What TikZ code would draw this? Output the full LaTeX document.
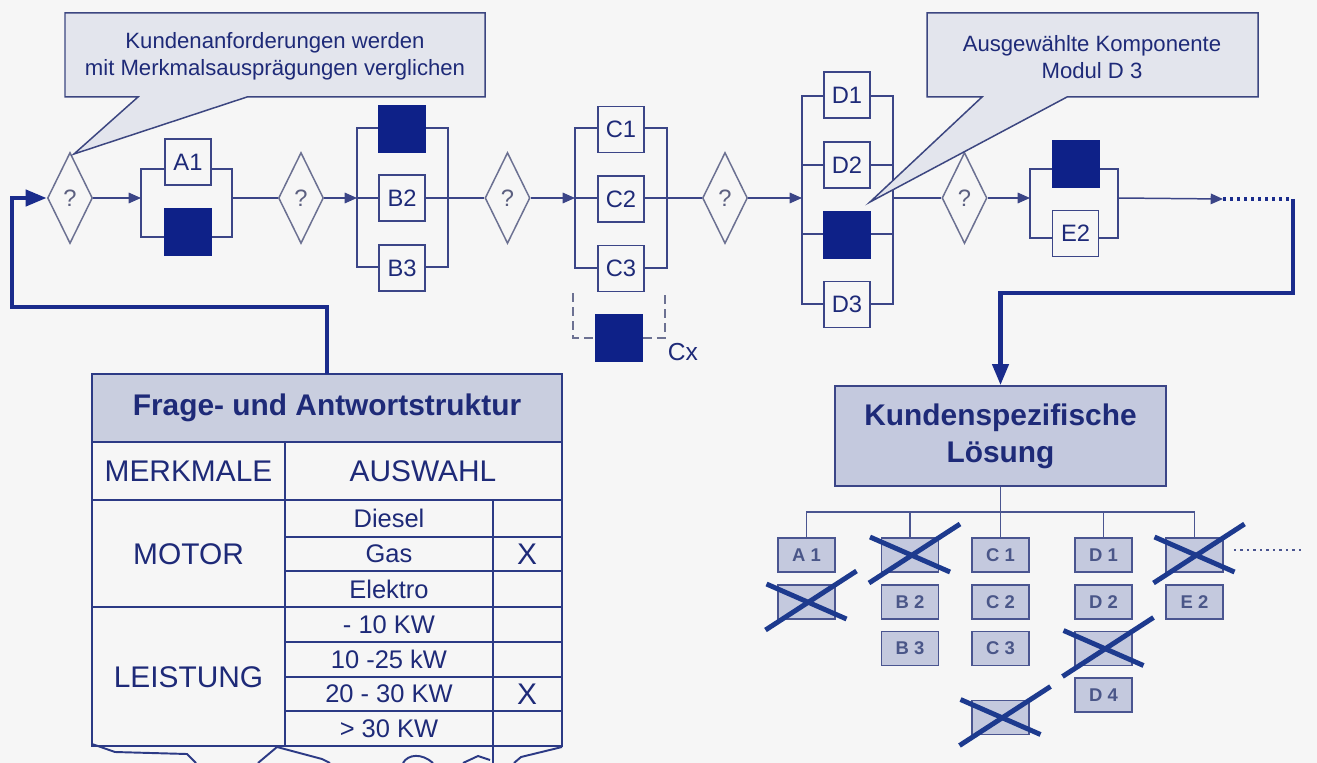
\documentclass[tikz,border=0pt]{standalone}
\usepackage{fontspec}
\setmainfont{Liberation Sans}
\usetikzlibrary{shapes.geometric,arrows.meta,calc}
\definecolor{bg}{HTML}{F6F6F6}
\definecolor{navy}{HTML}{0E2188}
\definecolor{lineblue}{HTML}{3B4587}
\definecolor{diagray}{HTML}{6C7192}
\definecolor{qgray}{HTML}{5C6080}
\definecolor{txt}{HTML}{1E2A78}
\definecolor{callfill}{HTML}{E3E5ED}
\definecolor{calldraw}{HTML}{3C4680}
\definecolor{titlefill}{HTML}{C9CEDF}
\definecolor{boxfill}{HTML}{C4C9DE}
\definecolor{thickblue}{HTML}{1A2C8C}
\definecolor{tabblue}{HTML}{2C3A85}
\definecolor{treeline}{HTML}{4A5590}
\definecolor{treetxt}{HTML}{4A5688}
\definecolor{crossblue}{HTML}{1D3A8E}
\tikzset{
  thinl/.style={draw=lineblue, line width=0.85pt},
  arr/.style={-{Triangle[length=7pt,width=6pt]}},
  bigarr/.style={-{Triangle[length=12pt,width=9pt]}},
  thickc/.style={draw=thickblue, line width=2.6pt},
  dia/.style={diamond, draw=diagray, line width=0.85pt, fill=bg, minimum width=0.9cm, minimum height=1.82cm, inner sep=0pt, text=qgray, font=\fontsize{13.5}{15}\selectfont},
  optbox/.style={draw=lineblue, line width=0.85pt, fill=bg, minimum width=0.92cm, minimum height=0.92cm, inner sep=0pt, text=txt, font=\fontsize{13.5}{15}\selectfont},
  selbox/.style={fill=navy, draw=navy, minimum width=0.94cm, minimum height=0.94cm, inner sep=0pt},
  callout/.style={draw=calldraw, fill=callfill, line width=0.85pt},
  calltext/.style={text=txt, font=\fontsize{12.6}{15.3}\selectfont, align=center},
  tabline/.style={draw=tabblue, line width=1.1pt},
  tabtxt/.style={text=txt, font=\fontsize{17}{20}\selectfont},
  opttxt/.style={text=txt, font=\fontsize{14.5}{16}\selectfont},
  treebox/.style={draw=treeline, line width=0.85pt, fill=boxfill, minimum width=1.14cm, minimum height=0.68cm, inner sep=0pt, text=treetxt, font=\bfseries\fontsize{10.5}{12}\selectfont},
  treel/.style={draw=treeline, line width=0.85pt},
  crossl/.style={draw=crossblue, line width=2.8pt},
}
\begin{document}
\begin{tikzpicture}[x=0.02cm,y=-0.02cm]
\useasboundingbox (0,0) rectangle (1317,763);
\fill[bg] (0,0) rectangle (1317,763);
\begin{scope}
\clip (0,0) rectangle (1317,763);

% ---------- brackets (drawn first) ----------
\draw[thinl] (141,169) rectangle (232,237);
\draw[thinl] (357,128) rectangle (448,267);
\draw[thinl] (575,128) rectangle (667,268);
\draw[thinl] (802,96) rectangle (893,304);
\draw[thinl] (802,165) -- (893,165);
\draw[thinl] (802,234) -- (893,234);
\draw[thinl] (1030,169) rectangle (1118,238);

% ---------- coordinates ----------
\coordinate (aL) at (141,198);
\coordinate (aR) at (232,198);
\coordinate (bL) at (357,198);
\coordinate (cL) at (575,198);
\coordinate (dL) at (802,198);
\coordinate (dR) at (893,198);
\coordinate (eL) at (1030,198);
\coordinate (eR) at (1118,198);
\coordinate (etip) at (1223,199);
\coordinate (dotend) at (1293,199);

% ---------- diamonds ----------
\node[dia] (q1) at (70,198) {?};
\node[dia] (q2) at (301,198) {?};
\node[dia] (q3) at (507.5,198) {?};
\node[dia] (q4) at (725,198) {?};
\node[dia] (q5) at (964.5,198) {?};

% ---------- main flow ----------
\draw[thinl,arr] (q1.east) -- (aL);
\draw[thinl] (aR) -- (q2.west);
\draw[thinl,arr] (q2.east) -- (bL);
\draw[thinl] (bL) -- (q3.west);
\draw[thinl,arr] (q3.east) -- (cL);
\draw[thinl] (cL) -- (q4.west);
\draw[thinl,arr] (q4.east) -- (dL);
\draw[thinl] (dR) -- (q5.west);
\draw[thinl,arr] (q5.east) -- (eL);
\draw[thinl,arr] (eR) -- (etip);
\draw[draw=thickblue, line width=2.4pt, dash pattern=on 1.6pt off 2.4pt] (etip) -- (dotend);

% ---------- option boxes ----------
\node[optbox] (a1) at (188,162) {A1};
\node[selbox] (asel) at (188,232) {};
\node[selbox] (bsel) at (402,128.5) {};
\node[optbox] (b2) at (402,198) {B2};
\node[optbox] (b3) at (402,268) {B3};
\node[optbox] (c1) at (621,129.5) {C1};
\node[optbox] (c2) at (621,199) {C2};
\node[optbox] (c3) at (621,268.5) {C3};
\node[selbox] (cx) at (619,338) {};
\node[text=txt, font=\fontsize{14}{16}\selectfont] (cxl) at (683,352) {Cx};
\draw[draw=diagray, line width=0.85pt, dash pattern=on 5pt off 3pt] (573,293) -- (573,338) -- (cx.west);
\draw[draw=diagray, line width=0.85pt, dash pattern=on 5pt off 3pt] (cx.east) -- (665,338) -- (665,293);
\node[optbox] (d1) at (847,95) {D1};
\node[optbox] (d2) at (847,165) {D2};
\node[selbox] (dsel) at (847,234.5) {};
\node[optbox] (d3) at (847,304.5) {D3};
\node[selbox] (esel) at (1075.5,163.5) {};
\node[optbox] (e2) at (1075.5,233.5) {E2};

% ---------- callouts ----------
\draw[callout] (65,13) -- (485,13) -- (485,97) -- (247,97) -- (74,154) -- (138,97) -- (65,97) -- cycle;
\node[calltext] (call1) at (275,56) {Kundenanforderungen werden\\mit Merkmalsausprägungen verglichen};
\draw[callout] (927,13) -- (1258,13) -- (1258,97) -- (1067,97) -- (870,202) -- (982,97) -- (927,97) -- cycle;
\node[calltext] (call2) at (1092,57) {Ausgewählte Komponente\\Modul D 3};

% ---------- table ----------
\node[fill=titlefill, minimum width=9.4cm, minimum height=1.36cm, inner sep=0pt, text=txt, font=\bfseries\fontsize{17}{20}\selectfont] (tabtitle) at (327,408) {Frage- und Antwortstruktur};
\draw[tabline] (92,374) rectangle (562,746);
\draw[tabline] (92,442) -- (562,442);
\draw[tabline] (92,500) -- (562,500);
\draw[tabline] (92,607) -- (562,607);
\draw[tabline] (285,442) -- (285,746);
\draw[tabline] (493,500) -- (493,763);
\foreach \yy in {537,571,642,677,711} \draw[tabline] (285,\yy) -- (562,\yy);
% torn bottom
\draw[tabline] (92,744) -- (115,752) -- (187,754) -- (196,763);
\draw[tabline] (277,747) -- (258,763);
\draw[tabline] (277,747) -- (322,759) -- (330,763);
\draw[tabline] (403,763) .. controls (408,754) and (422,753) .. (433,763);
\draw[tabline] (463,763) -- (478,756) -- (490,760);
\draw[tabline] (562,747) -- (521,757) -- (514,763);

\node[tabtxt] (merk) at (188.5,471) {MERKMALE};
\node[tabtxt] (ausw) at (423,471) {AUSWAHL};
\node[tabtxt] (motor) at (188.5,554) {MOTOR};
\node[tabtxt] (leist) at (188.5,677) {LEISTUNG};
\node[opttxt] (o1) at (389,518.5) {Diesel};
\node[opttxt] (o2) at (389,554) {Gas};
\node[opttxt] (o3) at (389,589) {Elektro};
\node[opttxt] (o4) at (389,624.5) {- 10 KW};
\node[opttxt] (o5) at (389,659.5) {10 -25 kW};
\node[opttxt] (o6) at (389,694) {20 - 30 KW};
\node[opttxt] (o7) at (389,728.5) {> 30 KW};
\node[tabtxt] (x1) at (527,554) {X};
\node[tabtxt] (x2) at (527,694) {X};

% ---------- thick connectors ----------
\draw[thickc,bigarr] (tabtitle.north) |- (12,307) |- (q1.west);

\node[draw=lineblue, line width=0.9pt, fill=boxfill, minimum width=6.62cm, minimum height=2cm, inner sep=0pt, align=center, text=txt, font=\bfseries\fontsize{17}{21}\selectfont] (losung) at (1000.5,436) {Kundenspezifische\\Lösung};
\draw[thickc,bigarr] (dotend) -- (1293,293) -| (losung.north);

% ---------- tree ----------
\node[treebox] (ta1) at (806.5,555) {A 1};
\node[treebox] (ta2) at (806.5,602) {};
\node[treebox] (tb1) at (910,555) {};
\node[treebox] (tb2) at (910,602) {B 2};
\node[treebox] (tb3) at (910,648.5) {B 3};
\node[treebox] (tc1) at (1000.5,555) {C 1};
\node[treebox] (tc2) at (1000.5,602) {C 2};
\node[treebox] (tc3) at (1000.5,648.5) {C 3};
\node[treebox] (tc4) at (1000.5,717.5) {};
\node[treebox] (td1) at (1103.5,555) {D 1};
\node[treebox] (td2) at (1103.5,602) {D 2};
\node[treebox] (td3) at (1103.5,648.5) {};
\node[treebox] (td4) at (1103.5,695) {D 4};
\node[treebox] (te1) at (1194.5,555) {};
\node[treebox] (te2) at (1194.5,602) {E 2};
\coordinate (tj) at (1000.5,512);
\draw[treel] (losung.south) -- (tj);
\draw[treel] (ta1.north) |- (tj) -| (te1.north);
\draw[treel] (tb1.north) -- (tb1.north |- tj);
\draw[treel] (tc1.north) -- (tc1.north |- tj);
\draw[treel] (td1.north) -- (td1.north |- tj);
\draw[draw=treeline, line width=1.6pt, dash pattern=on 1.5pt off 2.2pt] (te1.east) ++(10,-5) coordinate (tdot) -- ++(70,0);

% crosses
\foreach \bx in {ta2,tb1,tc4,td3,te1} {
  \draw[crossl] ([shift={(-41,28)}]\bx.center) -- ([shift={(50,-31)}]\bx.center);
  \draw[crossl] ([shift={(-40,-18)}]\bx.center) -- ([shift={(40,17)}]\bx.center);
}
\end{scope}
\end{tikzpicture}
\end{document}
